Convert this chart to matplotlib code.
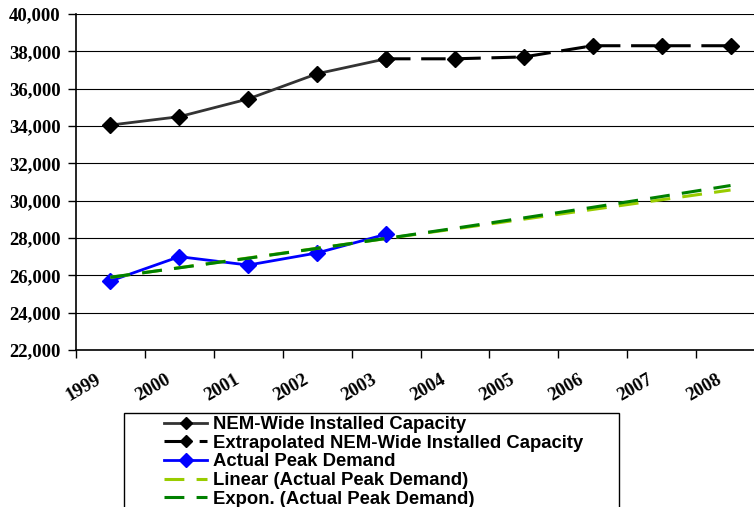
import numpy as np
import matplotlib.pyplot as plt
import matplotlib.patches as patches
import matplotlib.transforms as mtransforms
from matplotlib.ticker import FuncFormatter

# data (MW)
years = ['1999', '2000', '2001', '2002', '2003', '2004', '2005', '2006', '2007', '2008']
capacity = [34050, 34500, 35450, 36800, 37600]
extrap_capacity = [37600, 37600, 37700, 38300, 38300, 38300]
peak_demand = [25700, 27000, 26550, 27200, 28200]

x_all = np.arange(len(years))
x_cap = x_all[:len(capacity)]
x_ext = x_all[len(capacity) - 1:]
x_dem = x_all[:len(peak_demand)]

# Excel style trendlines fitted to the actual peak demand
lin = np.polyfit(x_dem, peak_demand, 1)
linear_trend = np.polyval(lin, x_all)
ex = np.polyfit(x_dem, np.log(peak_demand), 1)
expon_trend = np.exp(np.polyval(ex, x_all))

W, H = 754, 507
fig = plt.figure(figsize=(W / 100, H / 100), dpi=100)
ax = fig.add_axes([76 / W, (H - 350) / H, 689 / W, 336 / H])

ax.plot(x_cap, capacity, color='#333333', lw=2, marker='D', ms=8,
        mfc='black', mec='black', label='NEM-Wide Installed Capacity', zorder=3)
ax.plot(x_ext, extrap_capacity, color='black', lw=2.2, dashes=(8, 3.5), marker='D', ms=8,
        label='Extrapolated NEM-Wide Installed Capacity', zorder=3)
ax.plot(x_dem, peak_demand, color='#0000FF', lw=2, marker='D', ms=8.5,
        label='Actual Peak Demand', zorder=3)
ax.plot(x_all, linear_trend, color='#99CC00', lw=2.2, dashes=(6.5, 4),
        label='Linear (Actual Peak Demand)', zorder=4)
ax.plot(x_all, expon_trend, color='#008000', lw=2.2, dashes=(6.5, 4),
        label='Expon. (Actual Peak Demand)', zorder=4)

ax.set_xlim(-0.5, 9.5)
ax.set_ylim(22000, 40000)
ax.set_yticks(np.arange(22000, 40001, 2000))
ax.yaxis.set_major_formatter(FuncFormatter(lambda v, p: '{:,.0f}'.format(v)))
ax.grid(axis='y', color='black', lw=0.8)
ax.set_axisbelow(True)

# ticks at category boundaries, labels at category centres
ax.set_xticks(np.arange(-0.5, 10, 1))
ax.set_xticklabels([])
ax.set_xticks(x_all, minor=True)
ax.set_xticklabels(years, minor=True, rotation=30, ha='right', va='top')
ax.tick_params(axis='x', which='major', direction='out', length=6, width=1, color='black')
ax.tick_params(axis='x', which='minor', length=0, pad=15)
ax.tick_params(axis='y', direction='out', length=6, width=1, pad=5)

for lbl in ax.get_xticklabels(minor=True):
    lbl.set_fontfamily('Liberation Serif')
    lbl.set_fontweight('bold')
    lbl.set_fontsize(13.5)
    lbl.set_transform(lbl.get_transform() + mtransforms.ScaledTranslation(-6 / 100, 0, fig.dpi_scale_trans))
for lbl in ax.get_yticklabels():
    lbl.set_fontfamily('Liberation Serif')
    lbl.set_fontweight('bold')
    lbl.set_fontsize(13.5)

for s in ['top', 'right']:
    ax.spines[s].set_visible(False)
for s in ['left', 'bottom']:
    ax.spines[s].set_color('black')
    ax.spines[s].set_linewidth(1.2)

# legend, with its own frame drawn separately
leg = fig.legend(*ax.get_legend_handles_labels(), loc='upper left',
                 bbox_to_anchor=(164 / W, (H - 416) / H), bbox_transform=fig.transFigure,
                 frameon=False, borderpad=0, borderaxespad=0, numpoints=1,
                 handlelength=2.35, handletextpad=0.3, labelspacing=0.09,
                 prop={'family': 'Liberation Sans', 'weight': 'bold', 'size': 13.3},
                 markerscale=0.8)
fig.patches.append(patches.Rectangle((124 / W, -0.05), (619 - 124) / W, (H - 413) / H + 0.05,
                                     transform=fig.transFigure, fill=False,
                                     edgecolor='black', lw=1))

fig.savefig('out.png', dpi=100)
